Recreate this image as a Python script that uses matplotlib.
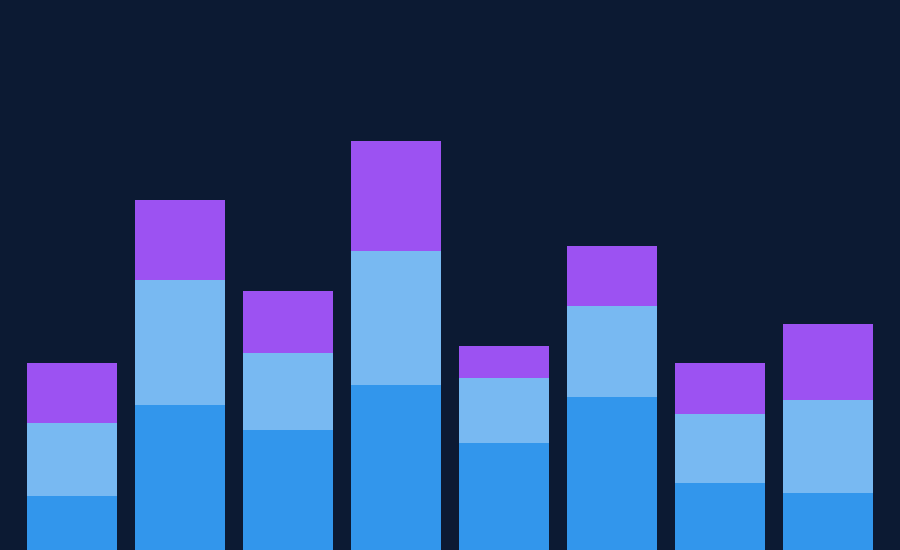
import matplotlib
matplotlib.use("Agg")
import matplotlib.pyplot as plt
import numpy as np

categories = ["A", "B", "C", "D", "E", "F", "G", "H"]
series_base = [54, 145, 120, 165, 107, 153, 67, 57]
series_mid = [73, 125, 77, 134, 65, 91, 69, 93]
series_top = [60, 80, 62, 110, 32, 60, 51, 76]

bg = "#0c1a33"
fig = plt.figure(figsize=(9, 5.5), dpi=100, facecolor=bg)
ax = fig.add_axes([0, 0, 1, 1])
ax.set_facecolor(bg)

x = np.arange(len(categories))
w = 0.833
base = np.array(series_base)
mid = np.array(series_mid)
top = np.array(series_top)
ax.bar(x, base, width=w, color="#3296ec", linewidth=0)
ax.bar(x, mid, width=w, bottom=base, color="#78b9f2", linewidth=0)
ax.bar(x, top, width=w, bottom=base + mid, color="#9c52f2", linewidth=0)

ax.set_xlim(-0.667, 7.667)
ax.set_ylim(0, 550)
ax.axis("off")

fig.savefig("out.png", dpi=100, facecolor=bg)
